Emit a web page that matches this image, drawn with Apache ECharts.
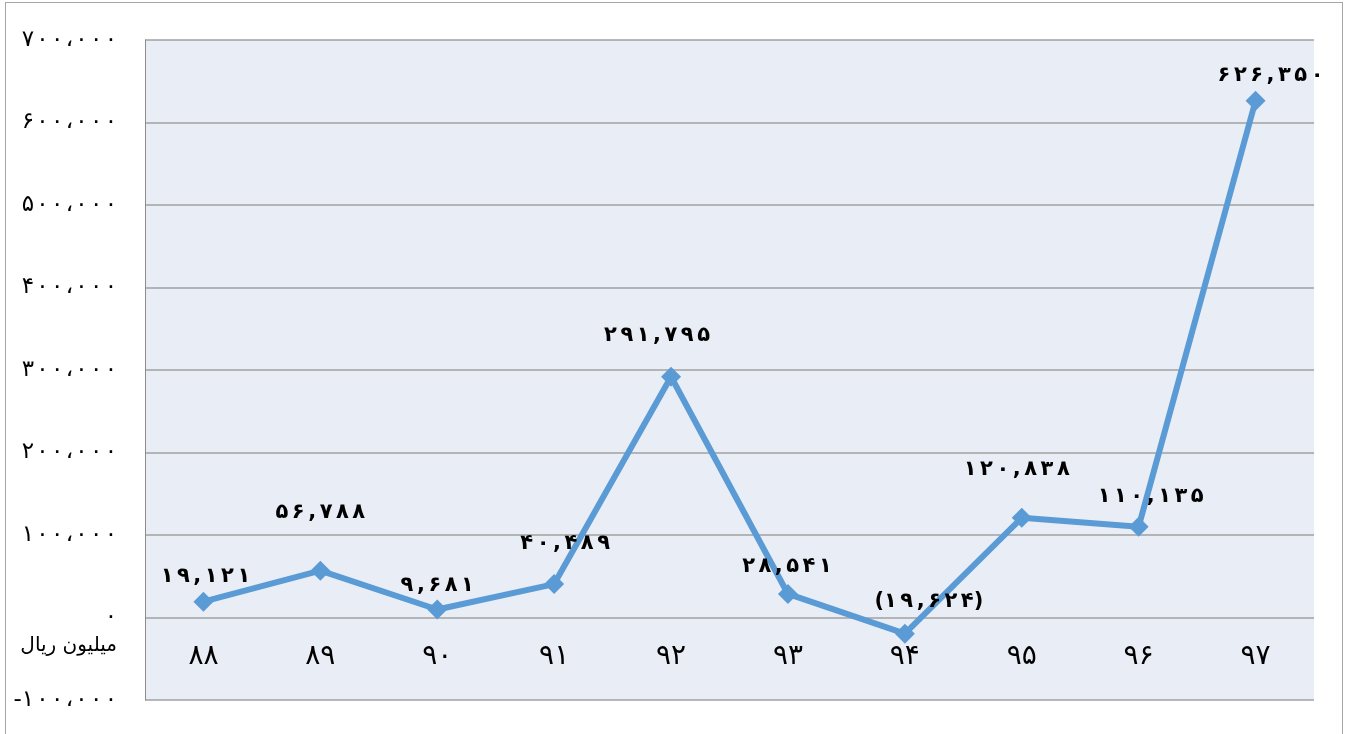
<!DOCTYPE html>
<html><head><meta charset="utf-8">
<script src="https://cdn.jsdelivr.net/npm/echarts@6/dist/echarts.min.js"></script>
<style>
html,body{margin:0;padding:0;background:#fff;overflow:hidden;}
#frame{position:absolute;left:5px;top:2px;width:1338px;height:740px;border:1px solid #a6a6a6;box-sizing:border-box;}
#c{position:absolute;left:0;top:0;width:1346px;height:734px;}
</style></head>
<body><div id="frame"></div><div id="c"></div>
<script>
const categories = ['۸۸','۸۹','۹۰','۹۱','۹۲','۹۳','۹۴','۹۵','۹۶','۹۷'];
const values = [19121, 56788, 9681, 40489, 291795, 28541, -19624, 120838, 110135, 626350];
const yTicks = [-100000, 0, 100000, 200000, 300000, 400000, 500000, 600000, 700000];
const unitLabel = 'میلیون ریال';

const labelOffsets = [[2,-25],[0,-58],[0,-24],[11,-41],[-14,-41],[-1,-27],[24,-32],[-5,-48],[12,-30],[15,-25]];

const fa = s => String(s).replace(/[0-9]/g, d => '۰۱۲۳۴۵۶۷۸۹'[d]);
const spaced = (s, sp) => s.split('').join(sp);
function fmtLabel(v){
  const s = spaced(fa(Math.abs(v).toLocaleString('en-US')), '\u2006');
  return v < 0 ? '(' + s + ')' : s;
}
function fmtAxis(v){
  if (v === 0) return '۰';
  const s = Math.abs(v).toLocaleString('en-US').replace(/,/g,'،');
  return (v < 0 ? '-' : '') + spaced(fa(s), '\u200A');
}

const chart = echarts.init(document.getElementById('c'));
chart.setOption({
  animation:false,
  textStyle:{fontFamily:'DejaVu Sans'},
  grid:{left:145,right:32,top:40,bottom:34,show:true,backgroundColor:'#e9edf5',borderWidth:0,
        outerBoundsMode:'none',containLabel:false},
  xAxis:{
    type:'category', data:categories, boundaryGap:true,
    axisLine:{show:false,onZero:false},
    axisTick:{show:false},
    axisLabel:{color:'#000',fontSize:28,margin:-43,verticalAlign:'middle',fontFamily:'DejaVu Sans'}
  },
  yAxis:{
    type:'value', min:-100000, max:700000, interval:100000,
    axisLine:{show:true,lineStyle:{color:'#8c8c8c',width:1}},
    axisTick:{show:false},
    splitLine:{lineStyle:{color:'#a0a0a0',width:1.5}},
    axisLabel:{color:'#000',fontSize:23,margin:28,fontFamily:'DejaVu Sans',
      formatter:v => yTicks.includes(v) ? fmtAxis(v) : ''}
  },
  graphic:[{type:'text',right:1229,top:636,style:{text:unitLabel,fontSize:20,fill:'#000',fontFamily:'DejaVu Sans',textAlign:'right'}}],
  series:[{
    type:'line', data:values.map((v,i)=>({value:v,label:{offset:labelOffsets[i]}})),
    symbol:'diamond', symbolSize:20,
    lineStyle:{color:'#5b9bd5',width:6},
    itemStyle:{color:'#5b9bd5'},
    label:{show:true,position:'inside',color:'#000',fontWeight:'bold',fontSize:21,
      fontFamily:'DejaVu Sans',formatter:p=>fmtLabel(p.value)}
  }]
});
</script></body></html>
